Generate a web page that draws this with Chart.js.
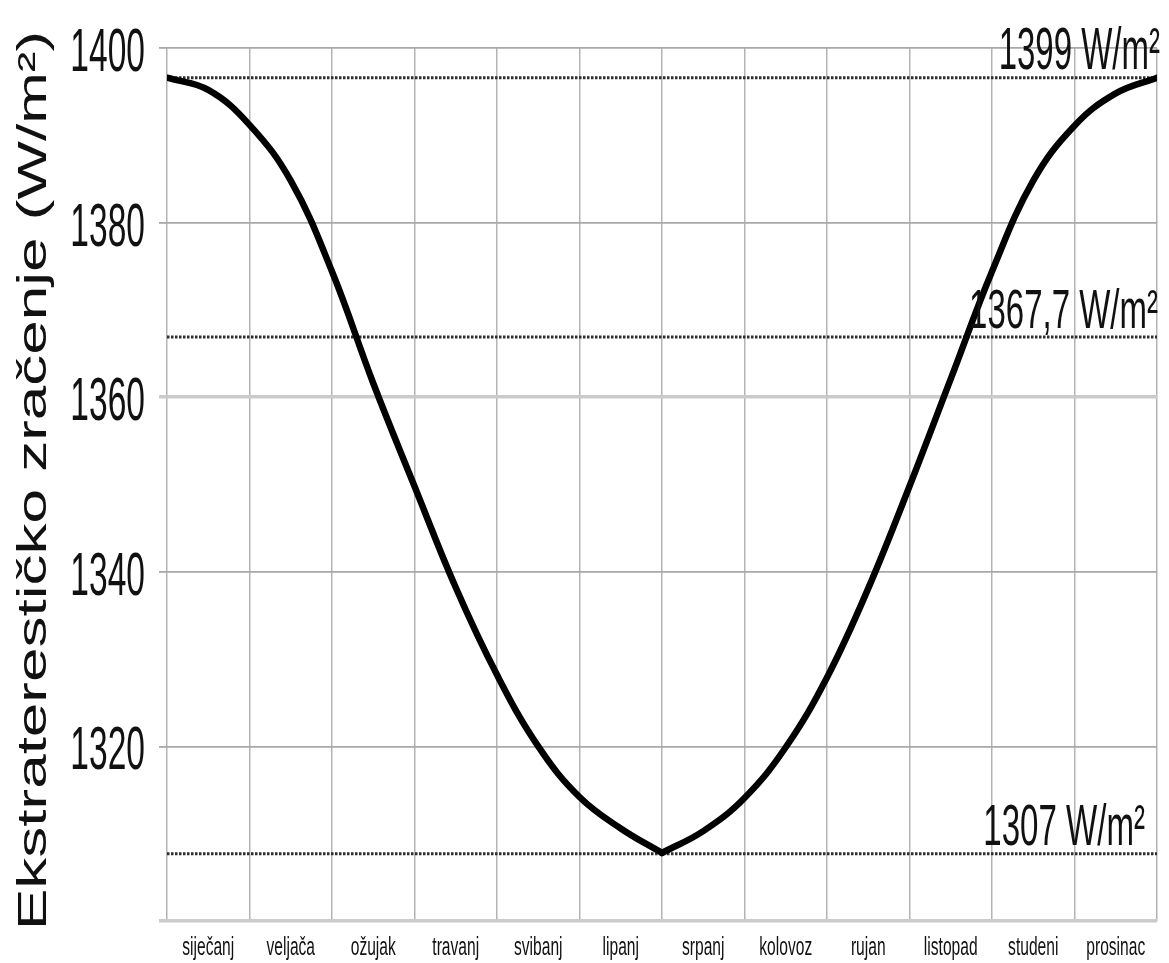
<!DOCTYPE html>
<html>
<head>
<meta charset="utf-8">
<script src="https://cdn.jsdelivr.net/npm/chart.js@4"></script>
<style>
    html, body { margin: 0; padding: 0; background: #fff; }
    canvas { display: block; }
</style>
</head>
<body>
<canvas id="irradianceChart" width="1169" height="963"></canvas>
<script>
// Month names (labels sit between the month gridlines)
const months = ['siječanj', 'veljača', 'ožujak', 'travanj', 'svibanj', 'lipanj',
    'srpanj', 'kolovoz', 'rujan', 'listopad', 'studeni', 'prosinac'];

// Curve: position in months (0 = 1 Jan, 12 = 31 Dec) and irradiance in W/m2
const monthPos = [0, 0.5, 1, 1.5, 2, 2.5, 3, 3.5, 4, 4.5, 5, 5.5, 6,
    6.5, 7, 7.5, 8, 8.5, 9, 9.5, 10, 10.5, 11, 11.5, 12];
const irradiance = [1396.6, 1395.2, 1391.2, 1384.8, 1374.4, 1361.6, 1349.8, 1338.2,
    1328.2, 1320.0, 1314.2, 1310.6, 1307.8, 1310.3, 1314.1, 1319.9, 1327.9, 1338.1,
    1349.8, 1362.1, 1374.4, 1384.8, 1391.1, 1394.8, 1396.6];

// Dotted reference levels and their captions
const refLevels = [1396.6, 1366.9, 1307.7];
const refLabels = ['1399 W/m²', '1367,7 W/m²', '1307 W/m²'];

// Y axis ticks
const yTicks = [1300, 1320, 1340, 1360, 1380, 1400];
const yTitle = 'Ekstraterestičko zračenje (W/m²)';

const FONT = '"Liberation Sans", Arial, sans-serif';
const minIndex = monthPos.indexOf(6);

const points = monthPos.map((m, i) => ({ x: m, y: irradiance[i] }));

// Draw horizontally squeezed text (the reference is narrow)
function squeezed(ctx, text, px, py, sx) {
    ctx.save();
    ctx.translate(px, py);
    ctx.scale(sx, 1);
    ctx.fillText(text, 0, 0);
    ctx.restore();
}

const textPlugin = {
    id: 'squeezedText',
    afterDatasetsDraw(chart) {
        const { ctx, scales: { x, y } } = chart;
        ctx.save();
        ctx.fillStyle = '#111';
        ctx.textBaseline = 'alphabetic';

        // Y tick labels
        ctx.font = '61px ' + FONT;
        ctx.textAlign = 'right';
        y.ticks.forEach(t => {
            if (t.value === yTicks[0]) return;
            squeezed(ctx, String(t.value), 145, y.getPixelForValue(t.value) + 23, 0.55);
        });

        // Month labels
        ctx.font = '26px ' + FONT;
        ctx.textAlign = 'center';
        months.forEach((m, i) => {
            squeezed(ctx, m, x.getPixelForValue(i + 0.5), 955, 0.6);
        });

        // Captions of dotted levels
        ctx.textAlign = 'right';
        const capStyle = [
            { size: 60, sx: 0.55, right: 1160 },
            { size: 55, sx: 0.6, right: 1158 },
            { size: 58, sx: 0.57, right: 1145 }
        ];
        refLabels.forEach((label, i) => {
            const s = capStyle[i];
            ctx.font = s.size + 'px ' + FONT;
            squeezed(ctx, label, s.right, y.getPixelForValue(refLevels[i]) - 9, s.sx);
        });

        // Rotated y title
        ctx.font = '62px ' + FONT;
        ctx.textAlign = 'center';
        ctx.save();
        ctx.translate(46, (chart.chartArea.top + chart.chartArea.bottom) / 2 - 4);
        ctx.scale(0.66, 1);
        ctx.rotate(-Math.PI / 2);
        ctx.fillText(yTitle, 0, 0);
        ctx.restore();

        ctx.restore();
    }
};

const refDatasets = refLevels.map(v => ({
    data: [{ x: 0, y: v }, { x: 12, y: v }],
    borderColor: '#2e2e2e',
    borderWidth: 3,
    borderDash: [2.5, 1.5],
    pointRadius: 0,
    order: 2
}));

const curveStyle = {
    borderColor: '#000',
    borderWidth: 6.5,
    borderCapStyle: 'round',
    borderJoinStyle: 'round',
    tension: 0.4,
    pointRadius: 0,
    order: 0
};

new Chart(document.getElementById('irradianceChart'), {
    type: 'line',
    data: {
        datasets: [
            { ...curveStyle, data: points.slice(0, minIndex + 1) },
            { ...curveStyle, data: points.slice(minIndex) },
            ...refDatasets
        ]
    },
    options: {
        responsive: false,
        animation: false,
        devicePixelRatio: 1,
        layout: { padding: { top: 48, right: 12, left: 0, bottom: 0 } },
        plugins: {
            legend: { display: false },
            tooltip: { enabled: false }
        },
        scales: {
            x: {
                type: 'linear',
                min: 0,
                max: 12,
                ticks: { display: false, stepSize: 1 },
                grid: { color: '#b4b4b4', lineWidth: 1.5, drawTicks: false },
                border: { display: false },
                afterFit: s => { s.height = 42; }
            },
            y: {
                type: 'linear',
                min: yTicks[0],
                max: yTicks[yTicks.length - 1],
                afterBuildTicks: s => { s.ticks = yTicks.map(v => ({ value: v })); },
                ticks: { display: false },
                grid: {
                    color: c => (c.tick.value === 1360 || c.tick.value === 1300) ? '#cbcbcb' : '#a8a8a8',
                    lineWidth: c => (c.tick.value === 1360 || c.tick.value === 1300) ? 3.5 : 1.8,
                    tickLength: 8
                },
                border: { display: false },
                afterFit: s => { s.width = 167; }
            }
        }
    },
    plugins: [textPlugin]
});
</script>
</body>
</html>
